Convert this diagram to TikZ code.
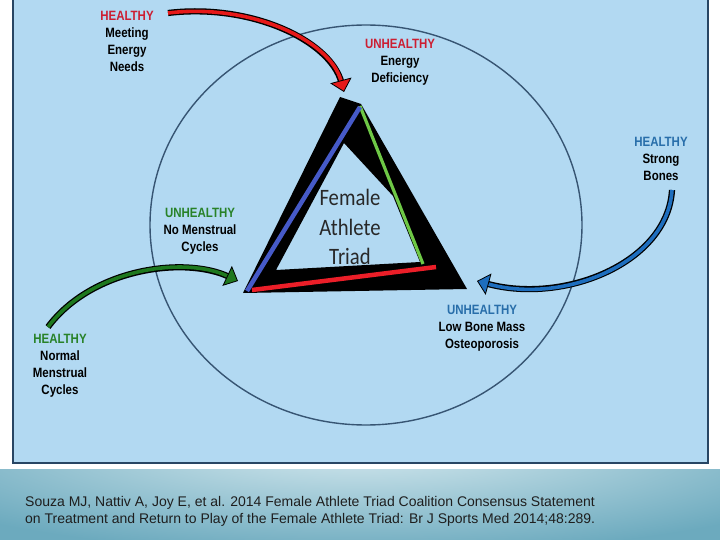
\documentclass[tikz,border=0pt]{standalone}
\usepackage{fontspec}
\setmainfont{Liberation Sans}
\newfontfamily\lblfont[FakeStretch=0.85]{Liberation Sans}
\newfontfamily\triadfont[FakeStretch=0.88]{Carlito}
\usetikzlibrary{arrows.meta}

\definecolor{panelblue}{RGB}{178,217,242}
\definecolor{panelrim}{RGB}{40,70,100}
\definecolor{ringblue}{RGB}{55,85,115}
\definecolor{bandlight}{RGB}{215,234,240}
\definecolor{bandteal}{RGB}{108,170,190}
\definecolor{okred}{RGB}{204,30,50}
\definecolor{okgreen}{RGB}{40,130,40}
\definecolor{okblue}{RGB}{40,110,170}
\definecolor{arrowred}{RGB}{230,25,25}
\definecolor{arrowgreen}{RGB}{30,120,30}
\definecolor{arrowblue}{RGB}{30,110,190}
\definecolor{sideblue}{RGB}{70,90,200}
\definecolor{sidegreen}{RGB}{110,200,70}
\definecolor{sidered}{RGB}{235,30,40}
\definecolor{triadgray}{RGB}{40,40,40}
\definecolor{citeblack}{RGB}{30,30,30}

\begin{document}
\begin{tikzpicture}[
  x=1pt, y=-1pt,
  state text/.style={
    align=center,
    inner sep=0pt,
    font=\lblfont\bfseries\fontsize{13.5}{17}\selectfont
  },
  triad text/.style={
    align=center,
    inner sep=0pt,
    text=triadgray,
    font=\triadfont\fontsize{23.5}{29.5}\selectfont
  },
  cite text/.style={
    align=left,
    inner sep=0pt,
    text=citeblack,
    font=\fontsize{14}{17.5}\selectfont
  },
  triad arrow/.style={
    draw=#1,
    line width=3.6pt,
    -{Triangle[length=12pt, width=22pt, color=black, fill=#1, line width=0.8pt]},
    preaction={draw=black, line width=6.2pt, -, shorten >=10pt}
  },
  side line/.style={
    draw=#1,
    line width=4.5pt
  }
]
\useasboundingbox (0,0) rectangle (720,540);

% panel and footer band
\fill[white] (0,0) rectangle (720,540);
\draw[fill=panelblue, draw=panelrim, line width=2.5pt] (13,-5) rectangle (708,463);
\begin{scope}
  \clip (0,469) rectangle (720,540);
  \fill[bandteal] (0,469) rectangle (720,540);
  \shade[inner color=bandlight, outer color=bandteal] (360,445) ellipse [x radius=520pt, y radius=110pt];
\end{scope}

% the ring
\draw[ringblue, line width=1.4pt] (366,225) ellipse [x radius=216pt, y radius=200pt];

% the triad
\fill[black, even odd rule] (340,97) -- (361,104) -- (467,289) -- (243,293) -- cycle
  (344,143) -- (393,196) -- (420,262) -- (276,270) -- cycle;
\draw[side line=sidegreen, line width=3.2pt] (360,106) -- (423,264);
\draw[side line=sideblue] (247,291) -- (360,107);
\draw[side line=sidered] (252,290) -- (436,267);

\node[triad text] (triad) at (350,227) {Female\\Athlete\\Triad};

% labels
\node[state text] (meeting) at (127,41.5) {\textcolor{okred}{HEALTHY}\\Meeting\\Energy\\Needs};
\node[state text] (deficiency) at (400,62.5) {\textcolor{okred}{UNHEALTHY}\\Energy\\Deficiency};
\node[state text] (strong) at (661,159) {\textcolor{okblue}{HEALTHY}\\Strong\\Bones};
\node[state text] (lowbone) at (482,328) {\textcolor{okblue}{UNHEALTHY}\\Low Bone Mass\\Osteoporosis};
\node[state text] (nomenses) at (200,231) {\textcolor{okgreen}{UNHEALTHY}\\No Menstrual\\Cycles};
\node[state text] (normal) at (60,366) {\textcolor{okgreen}{HEALTHY}\\Normal\\Menstrual\\Cycles};

% arrow ends
\coordinate (meetTail) at (168,13);
\coordinate (apexTip) at (344,92);
\coordinate (normalTail) at (48,327);
\coordinate (leftTip) at (238,281);
\coordinate (bonesTail) at (672,190);
\coordinate (rightTip) at (477,281);

\draw[triad arrow=arrowred] (meetTail) .. controls (250,3) and (330,40) .. (apexTip);
\draw[triad arrow=arrowgreen] (normalTail) .. controls (92,268) and (185,256) .. (leftTip);
\draw[triad arrow=arrowblue] (bonesTail) .. controls (668,262) and (565,305) .. (rightTip);

% source
\node[cite text, anchor=north west] (souza) at (25,495.8)
  {Souza MJ, Nattiv A, Joy E, et al. 2014 Female Athlete Triad Coalition Consensus Statement\\
   on Treatment and Return to Play of the Female Athlete Triad: Br J Sports Med 2014;48:289.};

\end{tikzpicture}
\end{document}
